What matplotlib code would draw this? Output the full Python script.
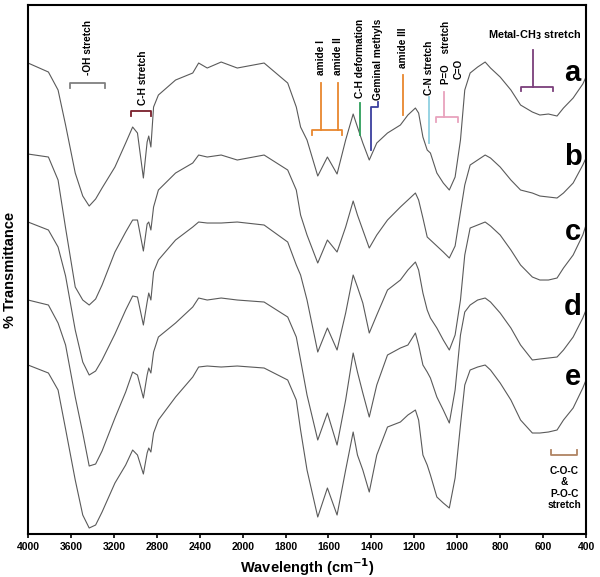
import numpy as np
import matplotlib
matplotlib.use("Agg")
import matplotlib.pyplot as plt

plt.rcParams['font.family'] = ['Liberation Sans', 'DejaVu Sans']
plt.rcParams['font.weight'] = 'bold'

# wavenumbers (cm-1) at which the spectra were read
wn = [4000, 3810, 3720, 3650, 3560, 3490, 3430, 3370, 3310, 3190,
      3090, 3025, 2980, 2925, 2890, 2875, 2855, 2830, 2785, 2625,
      2465, 2410, 2330, 2200, 2050, 1900, 1790, 1750, 1730, 1700,
      1650, 1605, 1560, 1520, 1485, 1465, 1440, 1410, 1375, 1325,
      1265, 1230, 1195, 1180, 1160, 1140, 1125, 1095, 1065, 1037,
      1010, 985, 965, 940, 905, 870, 845, 800, 750, 705,
      650, 615, 575, 535, 505, 460, 415, 400]

# stacked transmittance (arbitrary units), one list per sample
spec_a = [471, 462, 444, 409, 361, 338, 328, 335, 346, 367,
          391, 407, 401, 356, 392, 398, 387, 427, 439, 454,
          461, 471, 466, 472, 466, 471, 451, 427, 407, 394,
          358, 377, 360, 394, 420, 407, 391, 374, 391, 401,
          409, 419, 426, 421, 397, 384, 381, 361, 351, 344,
          357, 394, 444, 461, 467, 472, 466, 457, 444, 429,
          422, 419, 420, 418, 426, 436, 450, 457]
spec_b = [380, 377, 354, 306, 247, 234, 229, 235, 249, 282,
          302, 314, 314, 283, 310, 312, 304, 327, 344, 361,
          371, 379, 377, 379, 374, 379, 364, 344, 319, 299,
          271, 294, 282, 307, 333, 319, 304, 286, 299, 314,
          327, 334, 341, 334, 316, 297, 294, 288, 282, 276,
          288, 322, 349, 369, 374, 379, 376, 367, 354, 344,
          341, 338, 337, 336, 341, 351, 369, 376]
spec_c = [312, 304, 287, 258, 204, 172, 159, 163, 174, 200,
          224, 238, 237, 209, 232, 241, 234, 262, 274, 294,
          307, 312, 311, 311, 312, 309, 292, 269, 259, 234,
          182, 206, 184, 221, 259, 247, 231, 201, 219, 244,
          254, 264, 272, 264, 241, 224, 216, 206, 194, 184,
          199, 234, 279, 306, 309, 312, 308, 299, 284, 269,
          257, 254, 254, 256, 266, 279, 299, 309]
spec_d = [234, 229, 211, 189, 137, 101, 68, 70, 83, 116,
          142, 162, 159, 136, 159, 166, 161, 182, 197, 211,
          227, 236, 234, 236, 234, 232, 217, 197, 174, 139,
          94, 121, 89, 134, 181, 162, 141, 117, 149, 179,
          186, 189, 201, 189, 169, 162, 156, 137, 124, 111,
          144, 199, 222, 229, 234, 236, 232, 221, 206, 189,
          174, 175, 176, 177, 184, 197, 216, 224]
spec_e = [169, 161, 144, 105, 54, 19, 6, 9, 22, 51,
          69, 84, 79, 60, 81, 86, 82, 101, 114, 137,
          157, 167, 168, 167, 168, 166, 154, 134, 104, 64,
          17, 46, 19, 64, 102, 79, 64, 42, 79, 107,
          112, 119, 124, 114, 79, 69, 59, 37, 31, 26,
          56, 109, 149, 164, 167, 169, 164, 151, 134, 114,
          101, 101, 102, 104, 114, 126, 146, 154]

labels = ['a', 'b', 'c', 'd', 'e']
xticks = [4000, 3600, 3200, 2800, 2400, 2000, 1800, 1600,
          1400, 1200, 1000, 800, 600, 400]


# FTIR style axis: half scale above 2000 cm-1
def fwd(w):
    w = np.asarray(w, dtype=float)
    return np.where(w <= 2000, w / 200.0, 10 + (w - 2000) / 400.0)


def inv(t):
    t = np.asarray(t, dtype=float)
    return np.where(t <= 10, t * 200.0, 2000 + (t - 10) * 400.0)


fig = plt.figure(figsize=(6.0, 5.77), dpi=100)
ax = fig.add_axes([0.0467, 0.0745, 0.93, 0.9168])
ax.set_xscale('function', functions=(fwd, inv))

for s in [spec_a, spec_b, spec_c, spec_d, spec_e]:
    ax.plot(wn, s, color='#5a5a5a', lw=0.8)

ax.set_xlim(4000, 400)
ax.set_ylim(0, 529)
ax.set_xticks(xticks)
ax.set_xticklabels([str(t) for t in xticks], fontsize=7.5, fontweight='bold')
ax.minorticks_off()
ax.set_yticks([])
ax.tick_params(axis='x', direction='out', length=3, width=1.2, pad=3)
for sp in ax.spines.values():
    sp.set_linewidth(1.5)

ax.set_xlabel('Wavelength (cm$^{\\mathbf{-1}}$)', fontsize=10.5, fontweight='bold', labelpad=3)
ax.set_ylabel('% Transmittance', fontsize=10.5, fontweight='bold', labelpad=8)

# sample letters
for lab, yv in zip(labels, [461, 377, 302, 227, 157]):
    ax.text(462, yv, lab, fontsize=21, fontweight='bold', ha='center', va='center')

fs = 7.3


def vtext(x, y, s, color='black', size=fs):
    ax.text(x, y, s, rotation=90, ha='center', va='bottom', fontsize=size,
            fontweight='bold', color=color)


def bracket(x0, x1, y, dy, color, lw=1.3):
    ax.plot([x0, x0, x1, x1], [y + dy, y, y, y + dy], color=color, lw=lw)


# -OH stretch
vtext(3440, 459, '-OH stretch')
bracket(3607, 3280, 451, -5, '#808080')
# C-H stretch
vtext(2925, 429, 'C-H stretch')
bracket(3037, 2850, 423, -5, '#7a1f2b')
# amide I / II
vtext(1633, 459, 'amide I')
vtext(1556, 459, 'amide II')
orange = '#e8872e'
ax.plot([1633, 1633], [451, 404], color=orange, lw=1.3)
ax.plot([1556, 1556], [451, 404], color=orange, lw=1.3)
bracket(1679, 1535, 404, -5, orange)
# C-H deformation
vtext(1451, 436, 'C-H deformation')
ax.plot([1451, 1451], [431, 399], color='#2e9e5a', lw=1.3)
# Geminal methyls
vtext(1367, 434, 'Geminal methyls')
ax.plot([1367, 1367, 1400, 1400], [432, 427, 427, 384], color='#3a3f9e', lw=1.3)
# amide III
vtext(1255, 466, 'amide III')
ax.plot([1255, 1255], [459, 419], color=orange, lw=1.3)
# C-N stretch
vtext(1130, 439, 'C-N stretch')
ax.plot([1130, 1130], [437, 391], color='#8fd0e0', lw=1.3)
# P=O / C=O stretch
vtext(1053, 450, 'P=O    stretch', size=7)
vtext(993, 455, 'C=O', size=7)
pink = '#e8a3bd'
ax.plot([1060, 1060], [442, 417], color=pink, lw=1.3)
bracket(1098, 995, 417, -5, pink)
# Metal-CH3 stretch
ax.text(637, 499, 'Metal-CH$_\\mathbf{3}$ stretch', ha='center', va='center',
        fontsize=7.8, fontweight='bold')
purple = '#7b3f7b'
ax.plot([647, 647], [484, 447], color=purple, lw=1.3)
bracket(702, 553, 447, -4, purple)
# C-O-C & P-O-C stretch
bracket(563, 442, 79, 5, '#b08462')
ax.text(500, 46, 'C-O-C\n&\nP-O-C\nstretch', ha='center', va='center',
        fontsize=fs, fontweight='bold', linespacing=1.15)

fig.savefig('out.png', dpi=100)
